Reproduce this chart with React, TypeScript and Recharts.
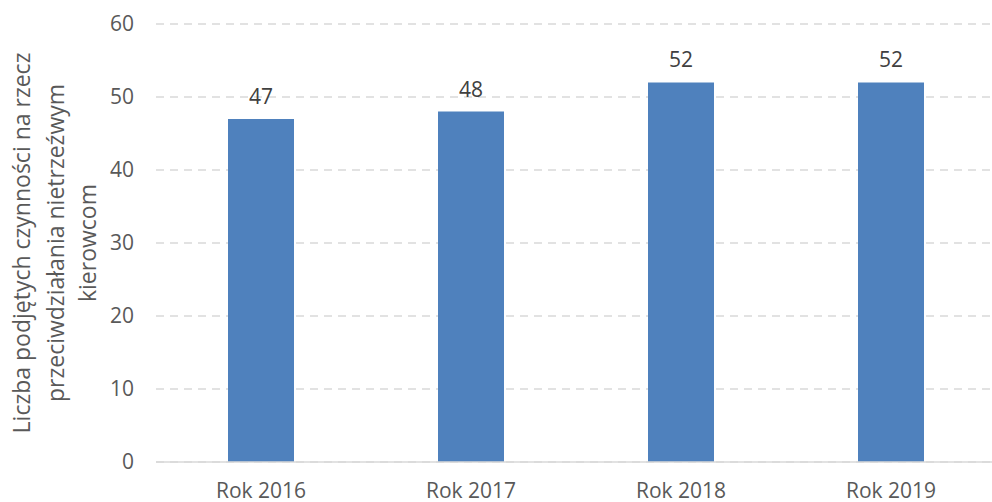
import React from "react";
import { BarChart, Bar, XAxis, YAxis, CartesianGrid, LabelList } from "recharts";

const years = ["Rok 2016", "Rok 2017", "Rok 2018", "Rok 2019"];
const counts = [47, 48, 52, 52];
const yTicks = [0, 10, 20, 30, 40, 50, 60];
const titleLines = [
  "Liczba podjętych czynności na rzecz",
  "przeciwdziałania nietrzeźwym",
  "kierowcom",
];

const data = years.map((year, i) => ({ year, value: counts[i] }));

const FONT = "'Open Sans', Lato, sans-serif";

function AxisTitle(props: any) {
  const vb = props.viewBox || { x: 0, y: 0, width: 0, height: 0 };
  const cy = vb.y + vb.height / 2;
  const xs = [vb.x + 21, vb.x + 55, vb.x + 87];
  return (
    <g>
      {titleLines.map((line, i) => (
        <text
          key={i}
          x={xs[i]}
          y={cy}
          transform={`rotate(-90, ${xs[i]}, ${cy})`}
          textAnchor="middle"
          dominantBaseline="central"
          fill="#595959"
          fontSize={23}
          fontFamily={FONT}
        >
          {line}
        </text>
      ))}
    </g>
  );
}

export default function App() {
  return (
    <div
      style={{
        position: "absolute",
        left: 0,
        top: 0,
        width: 992,
        height: 502,
        overflow: "hidden",
        background: "#fff",
      }}
    >
      <BarChart
        width={1000}
        height={502}
        data={data}
        margin={{ top: 24, right: 4, bottom: 0, left: 0 }}
      >
        <CartesianGrid
          vertical={false}
          stroke="#d9d9d9"
          strokeDasharray="8 6"
          strokeWidth={1.5}
        />
        <XAxis
          dataKey="year"
          height={40}
          axisLine={{ stroke: "#d9d9d9", strokeWidth: 1.5 }}
          tickLine={false}
          tickSize={0}
          tickMargin={21}
          tick={{ fill: "#595959", fontSize: 21, fontFamily: FONT }}
        />
        <YAxis
          width={156}
          domain={[0, 60]}
          ticks={yTicks}
          interval={0}
          axisLine={false}
          tickLine={false}
          tickSize={0}
          tickMargin={22}
          tick={{ fill: "#595959", fontSize: 21, fontFamily: FONT }}
          label={{ content: AxisTitle }}
        />
        <Bar dataKey="value" fill="#4f81bd" barSize={66} isAnimationActive={false}>
          <LabelList
            dataKey="value"
            position="top"
            offset={15}
            fill="#404040"
            fontSize={21}
            fontFamily={FONT}
          />
        </Bar>
      </BarChart>
    </div>
  );
}
